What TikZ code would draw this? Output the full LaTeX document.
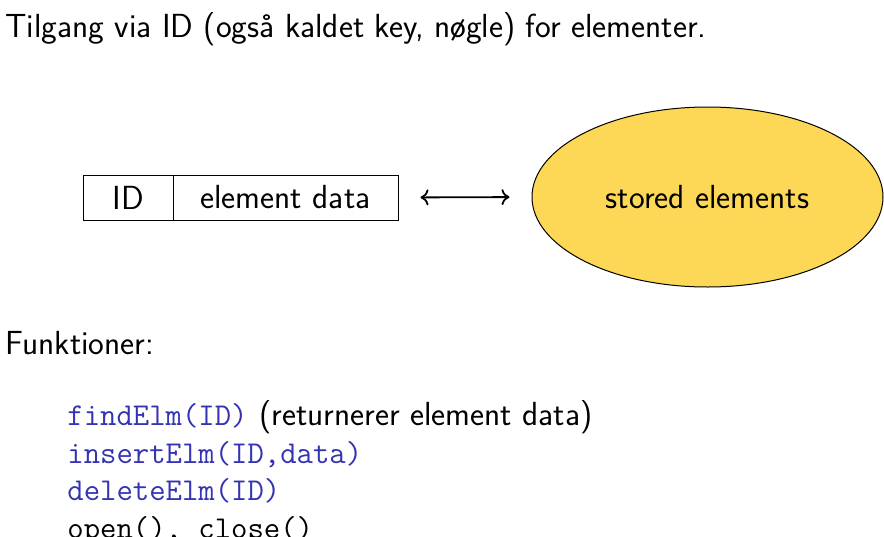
\documentclass[tikz,border=0pt]{standalone}
\usepackage{fontspec}
\usetikzlibrary{shapes.geometric,arrows.meta}
\definecolor{codeblue}{RGB}{51,51,179}
\definecolor{storefill}{RGB}{252,216,86}
\begin{document}
\begin{tikzpicture}[x=0.5pt,y=-0.5pt,
  font=\sffamily\fontsize{16.7}{20}\selectfont,
  textline/.style={anchor=base west,inner sep=0pt},
  cell/.style={draw,line width=0.5pt,minimum height=22.5pt,inner sep=0pt},
  store/.style={ellipse,draw,line width=0.5pt,fill=storefill,inner sep=0pt,
    minimum width=175.5pt,minimum height=90pt},
  code/.style={textline,font=\ttfamily\fontsize{15.9}{19}\selectfont}]
  \useasboundingbox (0,0) rectangle (884,536);

  \node[textline] (title) at (5,37) {Tilgang via ID (også kaldet key, nøgle) for elementer.};

  % record: key cell and data cell
  \node[cell,minimum width=45pt] (idcell) at (128,197.5) {ID};
  \node[cell,minimum width=112.5pt] (datacell) at (285.5,197.5) {element data};

  % storage
  \node[store] (stored) at (707.5,197) {stored elements};

  \draw[{To[length=4pt,width=8pt]}-{To[length=4pt,width=8pt]},line width=0.9pt,
    shorten <=11pt,shorten >=11pt] (datacell.east) -- (stored.west);

  \node[textline] (funk) at (5,354) {Funktioner:};

  \node[code,text=codeblue] (find) at (67,425) {findElm(ID)};
  \node[textline] (findnote) at ([xshift=5.5pt]find.base east) {(returnerer element data)};
  \node[code,text=codeblue] (insert) at (67,463) {insertElm(ID,data)};
  \node[code,text=codeblue] (delete) at (67,500) {deleteElm(ID)};
  \node[code] (openclose) at (67,538) {open(), close()};
\end{tikzpicture}
\end{document}
